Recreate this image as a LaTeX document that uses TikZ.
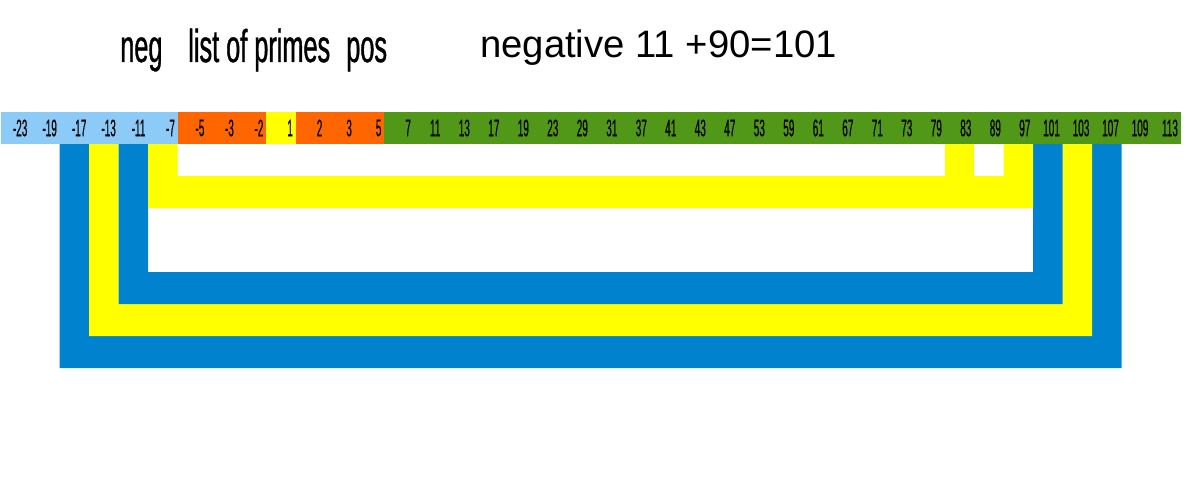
\documentclass[tikz,border=0pt]{standalone}
\usepackage{fontspec}
\setmainfont{Liberation Sans}
\newfontfamily\narrowfont[FakeStretch=0.42,FakeBold=0.4]{Liberation Sans}
\newfontfamily\titlefont[FakeStretch=0.55,FakeBold=0.8]{Liberation Sans}
\usepackage{tikz}
\definecolor{negblue}{RGB}{140,202,247}
\definecolor{primeorange}{RGB}{255,102,0}
\definecolor{oneyellow}{RGB}{255,255,0}
\definecolor{posgreen}{RGB}{82,152,24}
\definecolor{pairblue}{RGB}{0,130,207}
\tikzstyle{cell}=[draw=none,inner xsep=0.07cm,inner ysep=0pt,text width=0.5975cm,minimum height=0.8cm,align=right,font={\narrowfont\fontsize{17pt}{17pt}\selectfont}]
\tikzstyle{title}=[inner sep=0pt,anchor=base west]

\begin{document}
\begin{tikzpicture}[x=0.025cm,y=-0.025cm]
  \useasboundingbox (0,0) rectangle (1200,479);

  % nested brackets joining the pairs that add up to 90
  \foreach \col/\l/\r/\yb in {pairblue/2/37/368,oneyellow/3/36/336,pairblue/4/35/304,oneyellow/5/34/208}{
    \fill[\col] (0.7+29.5*\l,144) -- (0.7+29.5*\l,\yb) -- (30.2+29.5*\r,\yb)
      -- (30.2+29.5*\r,144) -- (0.7+29.5*\r,144) -- (0.7+29.5*\r,\yb-32)
      -- (30.2+29.5*\l,\yb-32) -- (30.2+29.5*\l,144) -- cycle;
  }
  \fill[oneyellow] (0.7+29.5*32,144) rectangle (30.2+29.5*32,176);

  % the strip of numbers
  \foreach \i/\v/\c in {0/-23/negblue,1/-19/negblue,2/-17/negblue,3/-13/negblue,
      4/-11/negblue,5/-7/negblue,6/-5/primeorange,7/-3/primeorange,8/-2/primeorange,
      9/1/oneyellow,10/2/primeorange,11/3/primeorange,12/5/primeorange}{
    \node[cell,fill=\c] (c\i) at (15.45+29.5*\i,128) {\v};
  }
  \foreach \v [count=\i from 13] in {7,11,13,17,19,23,29,31,37,41,43,47,53,59,61,
      67,71,73,79,83,89,97,101,103,107,109,113}{
    \node[cell,fill=posgreen] (c\i) at (15.45+29.5*\i,128) {\v};
  }

  % headings
  \node[title,font={\titlefont\fontsize{32.7pt}{34pt}\selectfont}] (neg) at (120,62) {neg};
  \node[title,font={\titlefont\fontsize{32.7pt}{34pt}\selectfont}] (list) at (188,62) {list of primes};
  \node[title,font={\titlefont\fontsize{32.7pt}{34pt}\selectfont}] (pos) at (346,62) {pos};
  \node[title,font={\fontsize{27.2pt}{28pt}\selectfont}] (sum) at (480,58) {negative 11 +90=101};
\end{tikzpicture}
\end{document}
